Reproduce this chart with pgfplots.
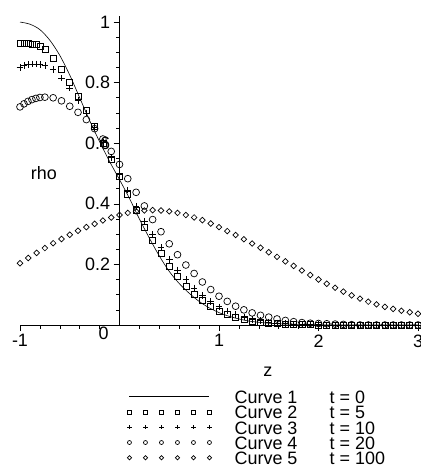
\documentclass[border=0pt]{standalone}
\usepackage{fontspec}
\setmainfont{Liberation Sans}
\usepackage{pgfplots}
\usepackage{pgfplotstable}
\pgfplotsset{compat=1.18}

% t = 0
\pgfplotstableread{
z rho
-1.0 1.000
-0.9 0.993
-0.8 0.975
-0.7 0.940
-0.6 0.890
-0.5 0.825
-0.4 0.750
-0.3 0.675
-0.2 0.605
-0.1 0.540
0.0 0.480
0.1 0.418
0.2 0.350
0.3 0.287
0.4 0.228
0.5 0.177
0.6 0.137
0.7 0.105
0.8 0.078
0.9 0.057
1.0 0.041
1.1 0.029
1.2 0.020
1.3 0.013
1.4 0.009
1.5 0.006
1.6 0.004
1.8 0.002
2.0 0.001
2.2 0.000
3.0 0.000
}\tzero

% t = 5
\pgfplotstableread{
z rho
-1.000 0.930
-0.960 0.930
-0.920 0.930
-0.880 0.928
-0.840 0.925
-0.800 0.920
-0.750 0.910
-0.667 0.880
-0.583 0.843
-0.500 0.800
-0.417 0.755
-0.333 0.708
-0.250 0.655
-0.167 0.600
-0.083 0.548
0.000 0.490
0.083 0.432
0.167 0.378
0.250 0.323
0.333 0.278
0.417 0.238
0.500 0.195
0.583 0.160
0.667 0.128
0.750 0.100
0.833 0.080
0.917 0.060
1.000 0.046
1.083 0.034
1.167 0.025
1.250 0.018
1.333 0.012
1.417 0.008
1.500 0.006
1.583 0.004
1.667 0.003
1.750 0.002
1.833 0.001
1.917 0.001
2.000 0.000
2.083 0.000
2.167 0.000
2.250 0.000
2.333 0.000
2.417 0.000
2.500 0.000
2.583 0.000
2.667 0.000
2.750 0.000
2.833 0.000
2.917 0.000
3.000 0.000
}\tfive

% t = 10
\pgfplotstableread{
z rho
-1.000 0.850
-0.960 0.856
-0.920 0.860
-0.880 0.862
-0.840 0.862
-0.800 0.860
-0.750 0.856
-0.667 0.843
-0.583 0.815
-0.500 0.782
-0.417 0.742
-0.333 0.700
-0.250 0.652
-0.167 0.603
-0.083 0.552
0.000 0.497
0.083 0.445
0.167 0.392
0.250 0.343
0.333 0.298
0.417 0.256
0.500 0.217
0.583 0.182
0.667 0.150
0.750 0.122
0.833 0.098
0.917 0.077
1.000 0.060
1.083 0.046
1.167 0.035
1.250 0.026
1.333 0.019
1.417 0.014
1.500 0.010
1.583 0.007
1.667 0.005
1.750 0.003
1.833 0.002
1.917 0.001
2.000 0.001
2.083 0.000
2.167 0.000
2.250 0.000
2.333 0.000
2.417 0.000
2.500 0.000
2.583 0.000
2.667 0.000
2.750 0.000
2.833 0.000
2.917 0.000
3.000 0.000
}\tten

% t = 20
\pgfplotstableread{
z rho
-1.000 0.720
-0.960 0.730
-0.920 0.738
-0.880 0.744
-0.840 0.748
-0.800 0.751
-0.750 0.752
-0.667 0.750
-0.583 0.740
-0.500 0.722
-0.417 0.702
-0.333 0.678
-0.250 0.648
-0.167 0.614
-0.083 0.573
0.000 0.530
0.083 0.483
0.167 0.438
0.250 0.393
0.333 0.348
0.417 0.308
0.500 0.268
0.583 0.232
0.667 0.198
0.750 0.170
0.833 0.142
0.917 0.117
1.000 0.095
1.083 0.078
1.167 0.062
1.250 0.050
1.333 0.040
1.417 0.032
1.500 0.026
1.583 0.020
1.667 0.015
1.750 0.011
1.833 0.008
1.917 0.006
2.000 0.005
2.083 0.004
2.167 0.003
2.250 0.002
2.333 0.001
2.417 0.000
2.500 0.000
2.583 0.000
2.667 0.000
2.750 0.000
2.833 0.000
2.917 0.000
3.000 0.000
}\ttwenty

% t = 100
\pgfplotstableread{
z rho
-1.000 0.204
-0.917 0.221
-0.833 0.238
-0.750 0.254
-0.667 0.270
-0.583 0.284
-0.500 0.298
-0.417 0.311
-0.333 0.323
-0.250 0.334
-0.167 0.345
-0.083 0.355
0.000 0.363
0.083 0.370
0.167 0.375
0.250 0.378
0.333 0.379
0.417 0.378
0.500 0.375
0.583 0.370
0.667 0.363
0.750 0.355
0.833 0.346
0.917 0.335
1.000 0.323
1.083 0.310
1.167 0.297
1.250 0.283
1.333 0.269
1.417 0.255
1.500 0.240
1.583 0.225
1.667 0.210
1.750 0.195
1.833 0.180
1.917 0.165
2.000 0.150
2.083 0.136
2.167 0.123
2.250 0.110
2.333 0.098
2.417 0.087
2.500 0.077
2.583 0.068
2.667 0.060
2.750 0.053
2.833 0.047
2.917 0.042
3.000 0.037
}\thundred

\newcommand{\bigfont}{\fontsize{18}{18}\selectfont}
\newcommand{\markrow}{\draw[only marks] plot coordinates {(0bp,2.5bp) (16bp,2.5bp) (32bp,2.5bp) (48bp,2.5bp) (64bp,2.5bp) (80bp,2.5bp)};}

\begin{document}
\begin{tikzpicture}
\useasboundingbox (-20bp,-143bp) rectangle (401bp,325bp);
\begin{axis}[
  at={(0,0)}, anchor=south west,
  scale only axis, width=398bp, height=309bp,
  xmin=-1, xmax=3, ymin=0, ymax=1.02,
  axis lines=middle, axis line style={-, line width=0.6pt},
  clip=false,
  xtick={-1,0,1,2,3}, xticklabels={-1,{},1,2,3},
  ytick={0,0.2,0.4,0.6,0.8,1}, yticklabels={{},0.2,0.4,0.6,0.8,1},
  minor x tick num=4, minor y tick num=3,
  tick align=outside, major tick length=6bp, minor tick length=3.5bp,
  tick style={black, line width=0.6pt},
  tick label style={font=\bigfont},
  xlabel={z}, ylabel={rho},
  every axis x label/.style={at={(axis description cs:0.623,-0.152)}, anchor=center, font=\bigfont},
  every axis y label/.style={at={(axis description cs:0.06,0.49)}, anchor=center, font=\bigfont},
  legend style={at={(axis description cs:0.269,-0.215)}, anchor=north west,
    draw=none, fill=none, inner sep=0pt, font=\bigfont,
    nodes={inner sep=0pt, text height=12bp, text depth=3.25bp},
    row sep=0pt},
  legend cell align=left,
]
\addplot[black, line width=0.6pt, smooth,
  legend image code/.code={\draw[line width=0.6pt] (0bp,2.5bp) -- (80bp,2.5bp);}]
  table[x=z, y=rho] {\tzero};
\addlegendentry{\hspace*{23bp}\makebox[95bp][l]{Curve 1}t = 0}
\addplot[black, only marks, mark=square, mark size=3bp, mark options={line width=0.7pt},
  legend image code/.code={\begin{scope}[mark size=2bp]\markrow\end{scope}}]
  table[x=z, y=rho] {\tfive};
\addlegendentry{\hspace*{23bp}\makebox[95bp][l]{Curve 2}t = 5}
\addplot[black, only marks, mark=+, mark size=3.3bp, mark options={line width=0.7pt},
  legend image code/.code={\begin{scope}[mark size=2.2bp]\markrow\end{scope}}]
  table[x=z, y=rho] {\tten};
\addlegendentry{\hspace*{23bp}\makebox[95bp][l]{Curve 3}t = 10}
\addplot[black, only marks, mark=o, mark size=3.4bp, mark options={line width=0.7pt},
  legend image code/.code={\begin{scope}[mark size=2bp]\markrow\end{scope}}]
  table[x=z, y=rho] {\ttwenty};
\addlegendentry{\hspace*{23bp}\makebox[95bp][l]{Curve 4}t = 20}
\addplot[black, only marks, mark=square, mark size=2bp, mark options={rotate=45, line width=0.7pt},
  legend image code/.code={\begin{scope}[mark size=1.5bp]\markrow\end{scope}}]
  table[x=z, y=rho] {\thundred};
\addlegendentry{\hspace*{23bp}\makebox[95bp][l]{Curve 5}t = 100}
\node[font=\bigfont] at (axis cs:-0.16,-0.028) {0};
\end{axis}
\end{tikzpicture}
\end{document}
